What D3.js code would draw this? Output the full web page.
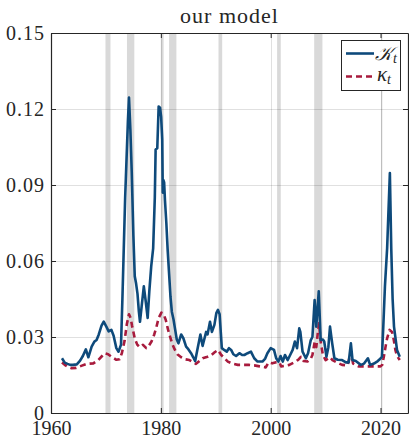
<!DOCTYPE html>
<html>
<head>
<meta charset="utf-8">
<script src="https://cdn.jsdelivr.net/npm/d3@7"></script>
<style>
  html, body { margin: 0; padding: 0; background: #fff; }
  svg { display: block; }
</style>
</head>
<body>
<svg id="chart" width="409" height="438"></svg>
<script>
// Aggregate measure K_t (solid) and kappa_t (dashed), quarterly-ish observations
const kDates = [1962.0, 1962.5, 1963.0, 1963.5, 1964.0, 1964.7, 1965.3, 1965.8, 1966.35, 1966.8,
  1967.4, 1967.9, 1968.3, 1968.7, 1969.2, 1969.6, 1970.1, 1970.5, 1971.0, 1971.4,
  1971.9, 1972.3, 1972.75, 1973.0, 1973.25, 1973.5, 1973.75, 1974.0, 1974.2, 1974.45,
  1974.7, 1975.0, 1975.25, 1975.5, 1975.75, 1976.0, 1976.2, 1976.5, 1976.9, 1977.25,
  1977.6, 1977.9, 1978.25, 1978.6, 1978.9, 1979.05, 1979.35, 1979.6, 1979.85, 1980.05,
  1980.25, 1980.35, 1980.45, 1980.6, 1980.75, 1981.0, 1981.25, 1981.5, 1981.75, 1982.0,
  1982.3, 1982.6, 1982.9, 1983.2, 1983.7, 1984.1, 1984.6, 1985.0, 1985.5, 1985.9,
  1986.25, 1986.7, 1987.2, 1987.6, 1988.25, 1988.5, 1988.95, 1989.3, 1989.75, 1990.1,
  1990.4, 1990.7, 1991.1, 1991.6, 1992.0, 1992.4, 1992.8, 1993.2, 1993.7, 1994.3,
  1994.8, 1995.2, 1995.8, 1996.4, 1997.0, 1997.6, 1998.5, 1999.0, 1999.4, 2000.0,
  2000.6, 2001.0, 2001.4, 2001.8, 2002.2, 2002.6, 2003.1, 2003.7, 2004.0, 2004.4,
  2004.8, 2005.2, 2005.4, 2005.8, 2006.4, 2006.8, 2007.3, 2007.6, 2008.0, 2008.3,
  2008.75, 2009.1, 2009.5, 2009.75, 2010.15, 2010.5, 2010.8, 2011.2, 2011.6, 2012.2,
  2013.0, 2013.7, 2014.2, 2014.6, 2014.9, 2015.5, 2016.4, 2017.0, 2017.7, 2018.1,
  2018.8, 2019.5, 2020.0, 2020.25, 2020.5, 2020.8, 2021.2, 2021.45, 2021.7, 2021.95,
  2022.2, 2022.45, 2023.0, 2023.5];
const kValues = [0.0216, 0.0199, 0.0194, 0.0190, 0.0190, 0.0192, 0.0207, 0.0225, 0.0251, 0.0220,
  0.0262, 0.0282, 0.0288, 0.0310, 0.0345, 0.0361, 0.0340, 0.0322, 0.0328, 0.0305,
  0.0256, 0.0242, 0.0270, 0.0450, 0.0650, 0.0850, 0.1000, 0.1150, 0.1245, 0.1120,
  0.0950, 0.0700, 0.0540, 0.0510, 0.0470, 0.0400, 0.0360, 0.0420, 0.0500, 0.0440,
  0.0375, 0.0480, 0.0580, 0.0650, 0.0850, 0.1040, 0.1045, 0.1210, 0.1205, 0.1170,
  0.1080, 0.0870, 0.0920, 0.0910, 0.0840, 0.0750, 0.0640, 0.0550, 0.0460, 0.0400,
  0.0370, 0.0330, 0.0290, 0.0275, 0.0310, 0.0295, 0.0262, 0.0252, 0.0236, 0.0220,
  0.0205, 0.0256, 0.0310, 0.0265, 0.0320, 0.0310, 0.0360, 0.0320, 0.0348, 0.0394,
  0.0407, 0.0390, 0.0256, 0.0248, 0.0242, 0.0256, 0.0249, 0.0232, 0.0225, 0.0236,
  0.0229, 0.0229, 0.0236, 0.0242, 0.0216, 0.0203, 0.0203, 0.0215, 0.0236, 0.0256,
  0.0249, 0.0216, 0.0203, 0.0225, 0.0203, 0.0229, 0.0209, 0.0236, 0.0249, 0.0282,
  0.0256, 0.0334, 0.0320, 0.0242, 0.0216, 0.0236, 0.0288, 0.0300, 0.0446, 0.0341,
  0.0480, 0.0288, 0.0290, 0.0282, 0.0222, 0.0260, 0.0341, 0.0275, 0.0216, 0.0210,
  0.0209, 0.0200, 0.0200, 0.0275, 0.0209, 0.0205, 0.0190, 0.0195, 0.0216, 0.0190,
  0.0195, 0.0205, 0.0215, 0.0222, 0.0340, 0.0500, 0.0650, 0.0800, 0.0947, 0.0650,
  0.0450, 0.0341, 0.0249, 0.0222];

const kappaDates = [1962.0, 1962.5, 1963.0, 1963.75, 1964.6, 1965.5, 1966.5, 1967.7, 1968.6, 1969.3,
  1969.8, 1970.4, 1971.0, 1971.9, 1972.5, 1972.9, 1973.4, 1973.8, 1974.2, 1974.5,
  1974.75, 1975.25, 1975.7, 1976.15, 1976.75, 1977.35, 1977.8, 1978.3, 1978.8, 1979.2,
  1979.6, 1980.1, 1980.5, 1980.9, 1981.3, 1981.7, 1982.1, 1982.5, 1983.0, 1983.7,
  1984.4, 1985.2, 1986.4, 1987.6, 1988.5, 1989.2, 1989.8, 1990.4, 1991.0, 1991.6,
  1992.2, 1993.0, 1994.0, 1995.0, 1996.0, 1997.0, 1998.0, 1999.1, 1999.6, 2000.3,
  2001.0, 2001.6, 2001.9, 2002.5, 2003.4, 2004.3, 2005.0, 2005.5, 2006.0, 2006.7,
  2007.3, 2007.6, 2008.0, 2008.3, 2008.6, 2008.8, 2009.1, 2009.5, 2010.0, 2010.8,
  2011.25, 2012.0, 2013.0, 2014.0, 2014.6, 2015.0, 2016.0, 2017.0, 2018.0, 2019.0,
  2020.0, 2020.3, 2020.6, 2020.9, 2021.2, 2021.65, 2022.1, 2022.4, 2022.7, 2023.0,
  2023.5];
const kappaValues = [0.0199, 0.0190, 0.0183, 0.0177, 0.0178, 0.0186, 0.0194, 0.0196, 0.0209, 0.0225,
  0.0236, 0.0232, 0.0222, 0.0210, 0.0212, 0.0236, 0.0285, 0.0350, 0.0390, 0.0375,
  0.0345, 0.0295, 0.0270, 0.0260, 0.0269, 0.0256, 0.0265, 0.0282, 0.0310, 0.0340,
  0.0375, 0.0396, 0.0390, 0.0367, 0.0330, 0.0300, 0.0272, 0.0252, 0.0232, 0.0220,
  0.0212, 0.0209, 0.0194, 0.0216, 0.0222, 0.0229, 0.0240, 0.0249, 0.0229, 0.0216,
  0.0203, 0.0195, 0.0190, 0.0190, 0.0190, 0.0188, 0.0184, 0.0180, 0.0200, 0.0196,
  0.0200, 0.0200, 0.0184, 0.0186, 0.0190, 0.0200, 0.0210, 0.0222, 0.0205, 0.0203,
  0.0215, 0.0229, 0.0280, 0.0260, 0.0320, 0.0354, 0.0282, 0.0230, 0.0209, 0.0220,
  0.0209, 0.0200, 0.0190, 0.0188, 0.0242, 0.0195, 0.0184, 0.0184, 0.0184, 0.0184,
  0.0184, 0.0190, 0.0222, 0.0260, 0.0295, 0.0328, 0.0320, 0.0290, 0.0249, 0.0225,
  0.0209];

// NBER recession periods (decimal years)
const recessionStart = [1969.92, 1973.83, 1980.0, 1981.5, 1990.5, 2001.17, 2007.92, 2020.08];
const recessionEnd   = [1970.83, 1975.17, 1980.5, 1982.83, 1991.17, 2001.83, 2009.42, 2020.33];

const xTicks = [1960, 1980, 2000, 2020];
const xTickLabels = ["1960", "1980", "2000", "2020"];
const yTicks = [0, 0.03, 0.06, 0.09, 0.12, 0.15];
const yTickLabels = ["0", "0.03", "0.06", "0.09", "0.12", "0.15"];

const titleText = "our model";

const W = 409, H = 438;
const margin = { top: 33, right: 1, bottom: 25, left: 51 };
const iw = W - margin.left - margin.right;
const ih = H - margin.top - margin.bottom;

const serif = "Liberation Serif";
const axisColor = "#262626";

const svg = d3.select("#chart");
const g = svg.append("g").attr("transform", `translate(${margin.left},${margin.top})`);

const x = d3.scaleLinear().domain([1960, 2025]).range([0, iw]);
const y = d3.scaleLinear().domain([0, 0.15]).range([ih, 0]);

// recession shading
g.append("g").selectAll("rect")
  .data(recessionStart.map((s, i) => [s, recessionEnd[i]]))
  .join("rect")
  .attr("x", d => x(d[0]))
  .attr("width", d => Math.max(1, x(d[1]) - x(d[0])))
  .attr("y", 0)
  .attr("height", ih)
  .attr("fill", "#d9d9d9");

// grid
const grid = g.append("g").attr("stroke", "#000").attr("stroke-opacity", 0.12).attr("stroke-width", 1);
grid.selectAll("line.gy").data(yTicks.slice(1, -1)).join("line")
  .attr("x1", 0).attr("x2", iw)
  .attr("y1", d => Math.round(y(d)) + 0.5).attr("y2", d => Math.round(y(d)) + 0.5);
grid.selectAll("line.gx").data(xTicks.slice(1)).join("line")
  .attr("y1", 0).attr("y2", ih)
  .attr("x1", d => Math.round(x(d)) + 0.5).attr("x2", d => Math.round(x(d)) + 0.5);

const blue = "#0e4a7b";
const red = "#a81b3d";

const line = d3.line().x(d => x(d[0])).y(d => y(d[1]));

g.append("path")
  .datum(kappaDates.map((d, i) => [d, kappaValues[i]]))
  .attr("d", line)
  .attr("fill", "none")
  .attr("stroke", red)
  .attr("stroke-width", 2.6)
  .attr("stroke-dasharray", "6,4")
  .attr("stroke-linejoin", "round");

g.append("path")
  .datum(kDates.map((d, i) => [d, kValues[i]]))
  .attr("d", line)
  .attr("fill", "none")
  .attr("stroke", blue)
  .attr("stroke-width", 2.6)
  .attr("stroke-linejoin", "round");

// axes (full box with inward ticks)
const yAxis = g.append("g")
  .call(d3.axisLeft(y).tickValues(yTicks).tickFormat((d, i) => yTickLabels[i]).tickSizeInner(-5).tickSizeOuter(0).tickPadding(6));
const xAxis = g.append("g").attr("transform", `translate(0,${ih})`)
  .call(d3.axisBottom(x).tickValues(xTicks).tickFormat((d, i) => xTickLabels[i]).tickSizeInner(-5).tickSizeOuter(0).tickPadding(7.5));
const yAxisR = g.append("g").attr("transform", `translate(${iw},0)`)
  .call(d3.axisRight(y).tickValues(yTicks).tickFormat("").tickSizeInner(-5).tickSizeOuter(0));
const xAxisT = g.append("g")
  .call(d3.axisTop(x).tickValues(xTicks).tickFormat("").tickSizeInner(-5).tickSizeOuter(0));

[yAxis, xAxis, yAxisR, xAxisT].forEach(a => {
  a.attr("font-family", serif);
  a.select(".domain").attr("stroke", axisColor).attr("stroke-width", 1.2);
  a.selectAll(".tick line").attr("stroke", axisColor).attr("stroke-width", 1);
  a.selectAll(".tick text").attr("fill", axisColor).attr("font-size", 20);
});
yAxis.selectAll(".tick text").attr("letter-spacing", 1);

// title
svg.append("text")
  .attr("x", margin.left + iw / 2)
  .attr("y", 23)
  .attr("text-anchor", "middle")
  .attr("font-family", serif)
  .attr("font-size", 22)
  .attr("letter-spacing", 1)
  .attr("fill", axisColor)
  .text(titleText);

// legend
const lg = svg.append("g").attr("transform", "translate(341,40)").attr("font-family", serif).attr("fill", axisColor);
lg.append("rect").attr("x", 0.5).attr("y", 0.5).attr("width", 59).attr("height", 50)
  .attr("fill", "#fff").attr("stroke", axisColor).attr("stroke-width", 1);
lg.append("line").attr("x1", 5).attr("x2", 33).attr("y1", 13.5).attr("y2", 13.5)
  .attr("stroke", blue).attr("stroke-width", 2.6);
lg.append("line").attr("x1", 5).attr("x2", 33).attr("y1", 36.5).attr("y2", 36.5)
  .attr("stroke", red).attr("stroke-width", 2.6).attr("stroke-dasharray", "6,4");

const t1 = lg.append("text").attr("x", 34).attr("y", 20).attr("font-size", 19);
t1.append("tspan").attr("font-style", "italic").text("𝒦");
t1.append("tspan").attr("font-style", "italic").attr("font-size", 14).attr("dy", 3).text("t");
const t2 = lg.append("text").attr("x", 36).attr("y", 41).attr("font-size", 21);
t2.append("tspan").attr("font-style", "italic").text("κ");
t2.append("tspan").attr("font-style", "italic").attr("font-size", 14).attr("dy", 3).text("t");
</script>
</body>
</html>
